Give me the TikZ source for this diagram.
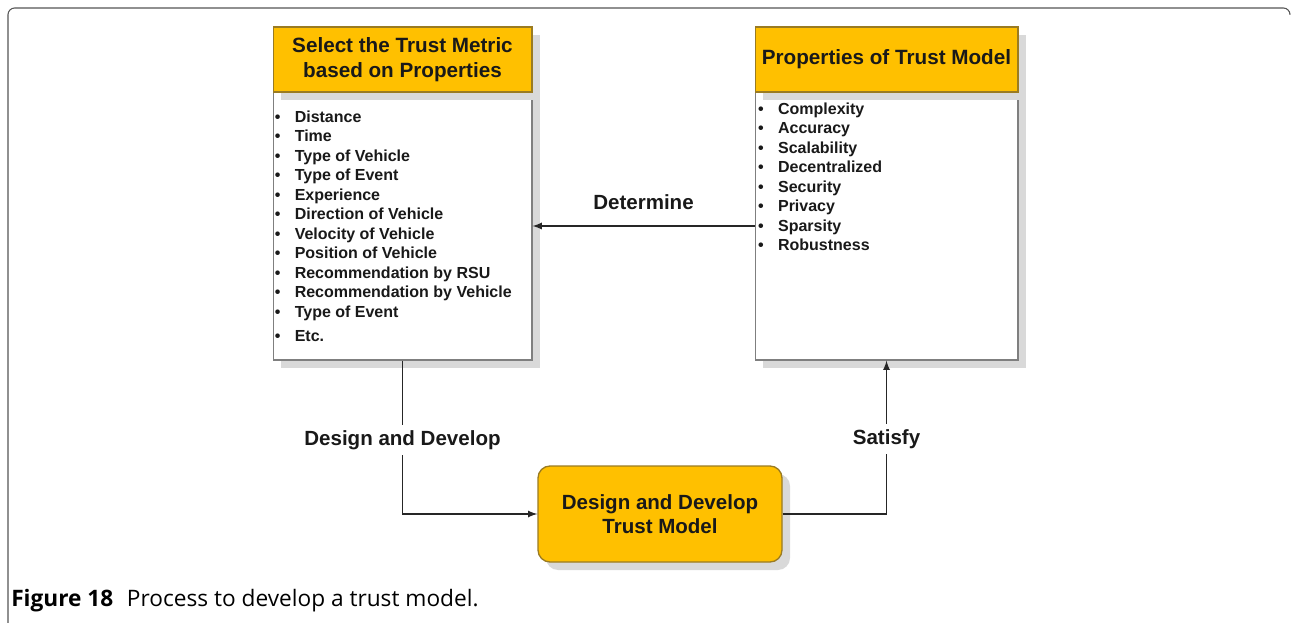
\documentclass[tikz,border=0pt]{standalone}
\usepackage{fontspec}
\setmainfont{Liberation Sans}
\newfontfamily\captionfont{Open Sans}
\usepackage{tikz}
\usetikzlibrary{calc,shapes,backgrounds,arrows,shadows,positioning}
\definecolor{trustgold}{HTML}{FFC000}
\definecolor{goldborder}{HTML}{9A7B22}
\definecolor{bodyborder}{HTML}{7F7F7F}
\definecolor{framegray}{HTML}{555555}
\newcommand{\pxunit}{0.75pt}
\newcommand{\listdot}{\makebox[15pt][l]{\textbullet}}
\tikzstyle{boxshadow}=[drop shadow={shadow xshift=6pt, shadow yshift=-6pt, fill=black!15, opacity=1}]
\tikzstyle{headbox}=[draw=goldborder, fill=trustgold, line width=1pt, minimum width=194pt, minimum height=48.75pt, inner sep=0, align=center, text=black!90, font=\bfseries\fontsize{15.5}{18.75}\selectfont, boxshadow]
\tikzstyle{bodybox}=[draw=bodyborder, fill=white, line width=1pt, minimum width=194pt, minimum height=201pt, inner sep=0, boxshadow]
\tikzstyle{listtext}=[inner sep=0, align=left, text=black!90, font=\bfseries\fontsize{12}{14.6}\selectfont]
\tikzstyle{modelbox}=[draw=goldborder, fill=trustgold, rounded corners=9pt, line width=1pt, minimum width=183pt, minimum height=72pt, align=center, text=black!90, font=\bfseries\fontsize{15.4}{18}\selectfont, boxshadow]
\tikzstyle{flowlabel}=[text=black!90, font=\bfseries\fontsize{15.4}{18}\selectfont]
\tikzstyle{arrow}=[->, >=latex, line width=1.4pt, draw=black!85]

\begin{document}
\begin{tikzpicture}[x=\pxunit, y=-\pxunit]
  \useasboundingbox (0,0) rectangle (1292,623);
  \draw[framegray, line width=0.8pt, rounded corners=5pt] (8,623) -- (8,8) -- (1290,8) -- (1290,14);

  \node[bodybox] (metricBody) at (402.5,226) {};
  \node[headbox] (metricHead) at (402.5,59.5) {Select the Trust Metric\\based on Properties};
  \node[bodybox, minimum width=197pt] (propBody) at (886.5,226) {};
  \node[headbox, minimum width=197pt] (propHead) at (886.5,59.5) {Properties of Trust Model};

  \node[listtext, below right=14.5pt and 1.5pt of metricBody.north west] (metricList) {%
    \listdot Distance\\
    \listdot Time\\
    \listdot Type of Vehicle\\
    \listdot Type of Event\\
    \listdot Experience\\
    \listdot Direction of Vehicle\\
    \listdot Velocity of Vehicle\\
    \listdot Position of Vehicle\\
    \listdot Recommendation by RSU\\
    \listdot Recommendation by Vehicle\\
    \listdot Type of Event\\[3.5pt]
    \listdot Etc.};
  \node[listtext, below right=8.5pt and 2.5pt of propBody.north west] (propList) {%
    \listdot Complexity\\
    \listdot Accuracy\\
    \listdot Scalability\\
    \listdot Decentralized\\
    \listdot Security\\
    \listdot Privacy\\
    \listdot Sparsity\\
    \listdot Robustness};

  \node[modelbox] (model) at (660,514) {Design and Develop\\Trust Model};

  \draw[arrow] (propBody) -- node[flowlabel, midway, yshift=18pt] {Determine} (metricBody);
  \draw[arrow] (metricBody.south) |- node[flowlabel, pos=0.26, fill=white, inner sep=4pt] {Design and Develop} (model.west);
  \draw[arrow] (model.east) -| node[flowlabel, pos=0.745, fill=white, inner sep=4pt] {Satisfy} (propBody.south);

  \node[anchor=west, inner sep=0, font=\captionfont\fontsize{17}{20}\selectfont] (caption) at (11,601) {\textbf{Figure 18}\hspace{0.6em}Process to develop a trust model.};
\end{tikzpicture}
\end{document}
